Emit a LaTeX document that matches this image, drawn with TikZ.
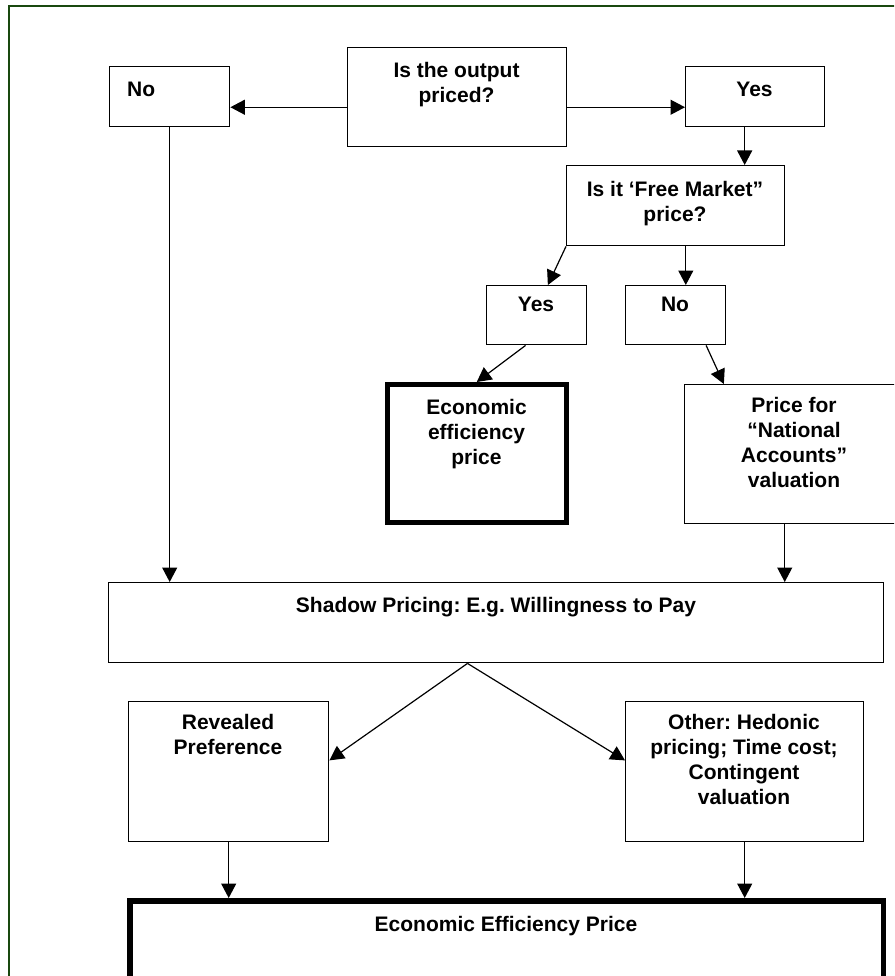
\documentclass[tikz,border=0pt]{standalone}
\usepackage{fontspec}
\setmainfont{Liberation Sans}
\usetikzlibrary{arrows.meta,calc}
\definecolor{framegreen}{RGB}{25,72,15}
\frenchspacing
\begin{document}
\begin{tikzpicture}[x=1pt,y=-1pt,
  box/.style={draw=black, line width=1.4pt, anchor=north west, inner sep=0pt},
  thickbox/.style={box, line width=4.5pt},
  lbl/.style={font=\fontsize{21}{25}\selectfont\bfseries\frenchspacing, align=center, inner sep=0pt, anchor=north},
  arr/.style={line width=1.2pt, -{Triangle[length=14.5pt,width=15pt]}}
]
\useasboundingbox (0,0) rectangle (894,976);
\clip (0,0) rectangle (894,976);
\draw[framegreen, line width=2pt] (8.5,6) rectangle (1000,1100);

% boxes
\node[box,minimum width=120pt,minimum height=60pt] (no1) at (109,66) {};
\node[box,minimum width=219pt,minimum height=99pt] (q) at (347,47) {};
\node[box,minimum width=139pt,minimum height=60pt] (yes1) at (685,66) {};
\node[box,minimum width=218pt,minimum height=80pt] (fm) at (566,165) {};
\node[box,minimum width=100pt,minimum height=59pt] (yes2) at (486,285) {};
\node[box,minimum width=100pt,minimum height=59pt] (no2) at (625,285) {};
\node[thickbox,minimum width=179pt,minimum height=138pt] (ee) at (385,382) {};
\node[box,minimum width=220pt,minimum height=139pt] (na) at (684,384) {};
\node[box,minimum width=775pt,minimum height=80pt] (sp) at (108,582) {};
\node[box,minimum width=200pt,minimum height=140pt] (rp) at (128,701) {};
\node[box,minimum width=238pt,minimum height=140pt] (ot) at (625,701) {};
\node[thickbox,line width=5.5pt,minimum width=753.5pt,minimum height=160pt] (eep) at (127,898) {};

% texts
\node[lbl,anchor=north west] (tno1) at (127,82) {No};
\node[lbl] (tq) at (456.5,62) {Is the output\\priced?};
\node[lbl] (tyes1) at (754.5,82) {Yes};
\node[lbl] (tfm) at (675,181) {Is it ‘Free Market”\\price?};
\node[lbl] (tyes2) at (536,297) {Yes};
\node[lbl] (tno2) at (675,297) {No};
\node[lbl] (tee) at (476.5,399) {Economic\\efficiency\\price};
\node[lbl] (tna) at (794,397) {Price for\\“National\\Accounts”\\valuation};
\node[lbl] (tsp) at (496,597) {Shadow Pricing: E.g. Willingness to Pay};
\node[lbl] (trp) at (228,714) {Revealed\\Preference};
\node[lbl] (tot) at (744,714) {Other: Hedonic\\pricing; Time cost;\\Contingent\\valuation};
\node[lbl] (teep) at (506,916) {Economic Efficiency Price};

% connector points
\coordinate (qw) at ($(q.north west)!0.6!(q.south west)$);
\coordinate (qe) at ($(q.north east)!0.6!(q.south east)$);
\coordinate (y1s) at ($(yes1.south west)!0.425!(yes1.south east)$);
\coordinate (y2n) at ($(yes2.north west)!0.61!(yes2.north east)$);
\coordinate (y2s) at ($(yes2.south west)!0.39!(yes2.south east)$);
\coordinate (fms) at ($(fm.south west)!0.546!(fm.south east)$);
\coordinate (n2s) at ($(no2.south west)!0.8!(no2.south east)$);
\coordinate (nan) at ($(na.north west)!0.18!(na.north east)$);
\coordinate (nas) at ($(na.south west)!0.455!(na.south east)$);
\coordinate (sps) at ($(sp.south west)!0.463!(sp.south east)$);
\coordinate (rpe) at ($(rp.north east)!0.42!(rp.south east)$);
\coordinate (otw) at ($(ot.north west)!0.42!(ot.south west)$);

% arrows
\draw[arr] (qw) -- (qw -| no1.east);
\draw[arr] (qe) -- (qe -| yes1.west);
\draw[arr] (y1s) -- (y1s |- fm.north);
\draw[arr] (fm.south west) -- (y2n);
\draw[arr] (fms) -- (fms |- no2.north);
\draw[arr] (y2s) -- (ee.north);
\draw[arr] (n2s) -- (nan);
\draw[arr] (no1.south) -- (no1.south |- sp.north);
\draw[arr] (nas) -- (nas |- sp.north);
\draw[arr] (sps) -- (rpe);
\draw[arr] (sps) -- (otw);
\draw[arr] (rp.south) -- (rp.south |- eep.north);
\draw[arr] (ot.south) -- (ot.south |- eep.north);
\end{tikzpicture}
\end{document}
